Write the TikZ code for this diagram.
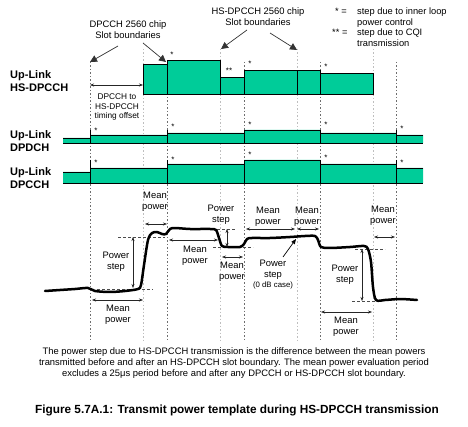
\documentclass[tikz,border=0pt]{standalone}
\usepackage{fontspec}
\setmainfont{Liberation Sans}
\usetikzlibrary{arrows.meta}
\definecolor{sig}{RGB}{0,204,153}
\definecolor{darkdot}{RGB}{110,110,110}
\definecolor{lightdot}{RGB}{190,190,190}
\tikzset{
  lbl/.style={font=\fontsize{9.4}{10.8}\selectfont, align=center, inner sep=0pt},
  leg/.style={font=\fontsize{9.3}{10.5}\selectfont, align=left, inner sep=0pt},
  chan/.style={font=\fontsize{11}{13}\selectfont\bfseries, align=left, inner sep=0pt, anchor=west},
  star/.style={font=\fontsize{8}{8}\selectfont, inner sep=0pt, anchor=base},
  dslot/.style={draw=darkdot, line width=0.8pt, dash pattern=on 1.5pt off 2pt},
  hslot/.style={draw=lightdot, line width=0.8pt, dash pattern=on 1.5pt off 2pt},
  dim/.style={draw=black!85, line width=0.5pt, {Stealth[length=4pt,width=3pt]}-{Stealth[length=4pt,width=3pt]}},
  lvl/.style={draw=black!70, line width=0.5pt, dash pattern=on 3pt off 2pt},
  bigarr/.style={draw=black!80, line width=0.7pt, -{Triangle[length=7pt,width=7pt]}},
  blk/.style={fill=sig, draw=black, line width=0.8pt},
  wave/.style={draw=black, line width=2.5pt, line join=round, line cap=round}
}
\begin{document}
\begin{tikzpicture}[x=1pt,y=-1pt]
\useasboundingbox (0,0) rectangle (468,427);
% slot boundary lines
\foreach \x in {90,167,244,320,396} \draw[dslot] (\x,62) -- (\x,340);
\foreach \x in {143,220,297,373} \draw[hslot] (\x,49) -- (\x,340);

% HS-DPCCH blocks
\draw[blk] (143,64) rectangle (167,94);
\draw[blk] (167,60) rectangle (220,94);
\draw[blk] (220,77) rectangle (244,94);
\draw[blk] (244,70) rectangle (297,94);
\draw[blk] (297,70) rectangle (320,94);
\draw[blk] (320,73) rectangle (373,94);
\node[star] (s1) at (172,58) {*};
\node[star] (s2) at (229,74) {**};
\node[star] (s3) at (250,67) {*};
\node[star] (s4) at (326,70) {*};

% DPDCH
\fill[sig] (63,143) -- (63,138) -- (90,138) -- (90,135) -- (167,135) -- (167,133) -- (244,133) -- (244,130) -- (320,130) -- (320,133) -- (396,133) -- (396,135) -- (423,135) -- (423,143) -- cycle;
\draw[black, line width=0.8pt] (63,138) -- (90,138) -- (90,135) -- (167,135) -- (167,133) -- (244,133) -- (244,130) -- (320,130) -- (320,133) -- (396,133) -- (396,135) -- (423,135);
\draw[black, line width=0.8pt] (63,143) -- (423,143);
\foreach \x in {90,167,244,320,396} \draw[black, line width=0.8pt] (\x,130) -- (\x,143);
\foreach \x/\y in {96/134,173/130,250/128,326/128,402/132} \node[star] at (\x,\y) {*};

% DPCCH
\fill[sig] (63,183) -- (63,172) -- (90,172) -- (90,168) -- (167,168) -- (167,164) -- (244,164) -- (244,160) -- (320,160) -- (320,164) -- (396,164) -- (396,168) -- (423,168) -- (423,183) -- cycle;
\draw[black, line width=0.8pt] (63,172) -- (90,172) -- (90,168) -- (167,168) -- (167,164) -- (244,164) -- (244,160) -- (320,160) -- (320,164) -- (396,164) -- (396,168) -- (423,168);
\draw[black, line width=0.8pt] (63,183) -- (423,183);
\foreach \x in {90,167,244,320,396} \draw[black, line width=0.8pt] (\x,160) -- (\x,183);
\foreach \x/\y in {96/166,173/163,250/158,326/161,402/166} \node[star] at (\x,\y) {*};

% channel labels
\node[chan] (c1) at (10,81) {Up-Link\\HS-DPCCH};
\node[chan] (c2) at (10,141) {Up-Link\\DPDCH};
\node[chan] (c3) at (10,178) {Up-Link\\DPCCH};

% top annotations
\node[lbl] (t1) at (128,30) {DPCCH 2560 chip\\Slot boundaries};
\node[lbl] (t2) at (258,17) {HS-DPCCH 2560 chip\\Slot boundaries};
\coordinate (p1) at (90,62);
\coordinate (p2) at (166,62);
\coordinate (p3) at (221,49);
\coordinate (p4) at (297,50);
\draw[bigarr] (118,46) -- (p1);
\draw[bigarr] (143,43) -- (p2);
\draw[bigarr] (247,30) -- (p3);
\draw[bigarr] (270,33) -- (p4);

% legend
\node[leg, anchor=base west] (l1) at (335,15) {* =};
\node[leg, anchor=base west] (l2) at (332,36) {** =};
\node[leg, anchor=north west] (l3) at (357,8) {step due to inner loop\\power control};
\node[leg, anchor=north west] (l4) at (357,29) {step due to CQI\\transmission};

% timing offset
\coordinate (o1) at (90,85);
\coordinate (o2) at (143,85);
\draw[dim] (o1) -- (o2);
\node[lbl, font=\fontsize{8.3}{9.6}\selectfont] (to) at (117,107) {DPCCH to\\HS-DPCCH\\timing offset};

% power level dashed lines
\draw[lvl] (118,237) -- (165,237);
\draw[lvl] (97,289) -- (153,289);
\draw[lvl] (217,229) -- (235,229);
\draw[lvl] (213,247) -- (253,247);
\draw[lvl] (355,249) -- (385,249);
\draw[lvl] (352,301) -- (375,301);

% waveform
\draw[wave] plot[smooth, tension=0.5] coordinates {(45,291) (60,290) (75,289) (88,288) (95,291) (110,292) (125,291) (138,289) (141,285) (144,265) (148,240) (152,233) (157,232) (162,234) (166,234) (170,229) (175,228) (190,229) (210,229) (216,230) (219,238) (222,246) (228,247) (240,247) (244,244) (247,239) (252,238) (270,238) (290,237) (305,236) (315,236) (318,240) (321,247) (330,248) (350,247) (364,246) (368,249) (371,262) (373,287) (376,300) (385,300) (400,299) (417,300)};

% power step dims
\draw[dim] (133,237) -- (133,288);
\draw[dim] (227,229) -- (227,247);
\draw[dim] (362,249) -- (362,301);
\node[lbl] (ps1) at (116,262) {Power\\step};
\node[lbl] (ps2) at (221,215) {Power\\step};
\node[lbl] (ps3) at (345,275) {Power\\step};
\node[lbl] (ps4) at (273,270) {Power\\step};
\node[lbl, font=\fontsize{7.8}{8.5}\selectfont, anchor=north] (ps4b) at (273,282) {(0 dB case)};
\coordinate (pt) at (296,239);
\draw[draw=black, line width=0.7pt, -{Triangle[length=5pt,width=4pt]}] (283,257) -- (pt);

% mean power dims
\draw[dim] (92,300) -- (143,300);
\draw[dim] (145,224) -- (167,224);
\draw[dim] (169,240) -- (218,240);
\draw[dim] (222,257) -- (243,257);
\draw[dim] (246,229) -- (295,229);
\draw[dim] (297,229) -- (319,229);
\draw[dim] (374,237) -- (395,237);
\draw[dim] (321,312) -- (372,312);
\node[lbl] (m1) at (118,315) {Mean\\power};
\node[lbl] (m2) at (155,202) {Mean\\power};
\node[lbl] (m3) at (195,256) {Mean\\power};
\node[lbl] (m4) at (232,272) {Mean\\power};
\node[lbl] (m5) at (268,217) {Mean\\power};
\node[lbl] (m6) at (307,217) {Mean\\power};
\node[lbl] (m7) at (383,216) {Mean\\power};
\node[lbl] (m8) at (346,327) {Mean\\power};

% captions
\node[lbl, font=\fontsize{9.4}{10.9}\selectfont] (cap) at (234,363) {The power step due to HS-DPCCH transmission is the difference between the mean powers\\transmitted before and after an HS-DPCCH slot boundary. The mean power evaluation period\\excludes a 25μs period before and after any DPCCH or HS-DPCCH slot boundary.};
\node[lbl, font=\fontsize{11.8}{13}\selectfont\bfseries] (fig) at (237,410) {Figure 5.7A.1: Transmit power template during HS-DPCCH transmission};
\end{tikzpicture}
\end{document}
